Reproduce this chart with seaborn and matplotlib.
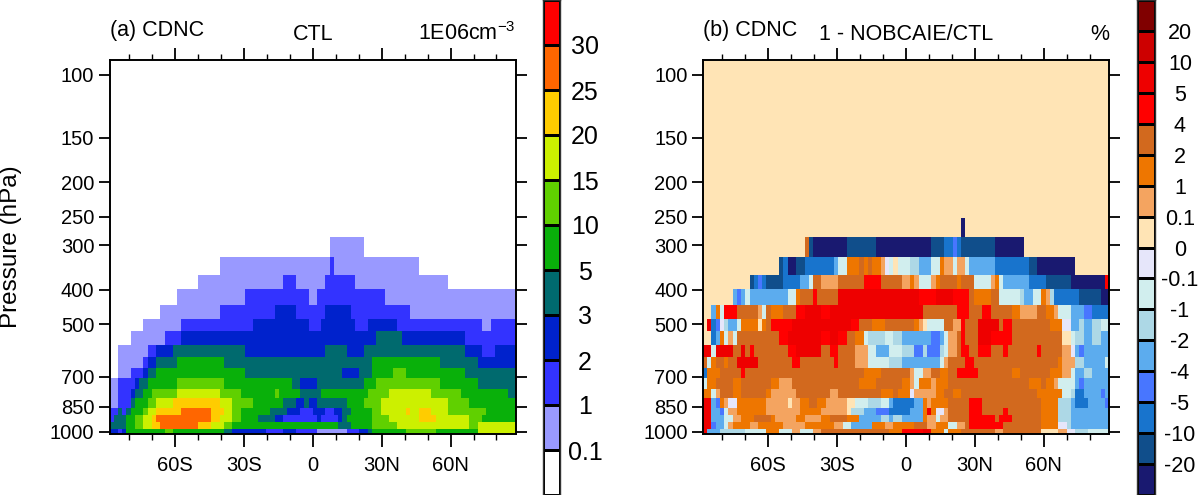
import numpy as np
import pandas as pd
import matplotlib
matplotlib.use("Agg")
import matplotlib.pyplot as plt
import seaborn as sns
from matplotlib.colors import ListedColormap, BoundaryNorm

sns.set_theme(style="ticks")
plt.rcParams["font.family"] = ["Liberation Sans", "DejaVu Sans"]
plt.rcParams["mathtext.default"] = "regular"
plt.rcParams["text.color"] = "black"
plt.rcParams["axes.labelcolor"] = "black"
plt.rcParams["xtick.color"] = "black"
plt.rcParams["ytick.color"] = "black"

# pressure edges of the model levels (hPa), top to bottom
level_edges = [253, 286, 323, 363, 398, 441, 482, 521, 571, 616, 662, 706,
               758, 803, 857, 896, 938, 981, 1013]
p_top = 91
p_bot = 1013
lat_max = 88.5
n_lat = 96

press_ticks = [100, 150, 200, 250, 300, 400, 500, 700, 850, 1000]
lat_major = [-60, -30, 0, 30, 60]
lat_labels = ["60S", "30S", "0", "30N", "60N"]
lat_minor = [-80, -70, -50, -40, -20, -10, 10, 20, 40, 50, 70, 80]

ctl_levels = ["0.1", "1", "2", "3", "5", "10", "15", "20", "25", "30"]
ctl_colors = ["#ffffff", "#9999ff", "#3333ff", "#0022cc", "#006a6e", "#09b00a",
              "#60d000", "#ccf000", "#ffcc00", "#ff6600", "#ff0000"]

diff_levels = ["-20", "-10", "-5", "-4", "-2", "-1", "-0.1", "0", "0.1", "1",
               "2", "4", "5", "10", "20"]
diff_colors = ["#191970", "#104e8b", "#1874cd", "#4876ff", "#5cacee", "#add8e6",
               "#d1eeee", "#e6e6fa", "#ffe4b5", "#f4a460", "#ee7600", "#d2691e",
               "#ff0000", "#ee0000", "#cd0000", "#800000"]

# binned CDNC, one string per level, "<bin>x<number of latitudes>", south to north
ctl_rows = [
    "0x96",
    "0x52 1x8 0x36",
    "0x26 1x26 2x1 1x20 0x23",
    "0x21 1x20 2x3 1x7 2x7 1x22 0x16",
    "0x16 1x16 2x15 1x2 2x16 1x31",
    "0x12 1x14 2x13 3x5 2x7 3x6 2x14 1x25",
    "0x8 1x9 2x17 3x13 2x3 3x8 2x3 3x7 2x20 1x2 2x6",
    "0x5 1x8 2x4 3x46 4x6 3x15 2x12",
    "0x2 1x7 2x2 3x4 4x17 3x19 4x5 3x4 4x24 3x4 2x3 3x5",
    "0x2 1x6 2x1 3x2 4x5 5x11 4x35 5x16 4x9 3x9",
    "0x2 1x3 2x3 3x1 4x2 5x21 4x23 3x4 4x3 5x5 6x3 5x14 4x12",
    "1x2 2x4 3x1 4x2 5x7 6x11 5x16 4x2 3x4 4x11 5x3 6x15 5x9 4x9",
    "1x2 2x3 3x1 4x2 5x2 6x6 7x10 6x5 5x8 6x1 5x5 4x5 5x11 6x5 7x10 6x7 5x11 4x2",
    "1x2 2x3 4x1 5x3 6x2 7x4 8x11 7x3 6x5 5x7 4x3 3x2 4x1 3x2 4x7 5x4 6x4 7x16 6x5 5x11",
    "2x2 4x1 2x1 4x1 5x3 6x1 7x2 8x6 9x7 8x3 7x2 6x2 5x7 4x4 3x3 2x3 3x3 2x2 3x2 4x2 5x5 6x2 7x6 8x1 7x2 8x3 7x4 6x9 5x7",
    "2x1 4x3 5x2 6x2 7x2 8x1 9x13 8x2 7x3 6x2 5x4 4x4 3x2 2x8 3x1 2x4 3x1 4x1 5x6 6x4 7x7 8x4 7x8 6x3 5x8",
    "4x4 5x2 6x2 7x2 8x2 9x9 8x3 7x3 6x2 5x25 4x3 5x5 6x6 7x17 6x2 7x9",
    "3x2 2x1 3x1 5x9 6x2 5x12 4x2 3x2 3x6 2x4 3x3 2x5 1x7 2x3 3x2 4x1 5x8 6x7 5x10 7x9",
]

# binned relative change, same layout (hex digit = bin)
diff_rows = [
    "8x61 0x1 8x34",
    "8x24 bx1 1x1 0x8 1x7 0x13 1x3 2x2 3x1 2x1 1x8 0x7 8x20",
    "8x18 1x1 2x1 0x2 1x2 2x7 4x1 6x2 ax3 bx1 ax1 bx1 ax2 9x1 7x1 6x1 8x1 6x3 5x2 4x3 6x2 ax1 9x2 6x1 9x2 6x1 4x6 2x4 2x4 1x2 0x9 8x8",
    "8x11 1x1 2x1 3x1 2x1 1x4 2x4 4x2 6x1 bx2 9x4 bx6 cx4 bx5 9x2 ax1 9x1 6x3 9x1 ax1 bx4 ax1 bx3 6x4 9x1 ax1 6x1 4x6 2x4 1x6 0x8 cx1",
    "8x7 4x1 3x1 4x1 6x1 4x9 6x2 ax1 bx3 cx1 bx5 dx19 cx4 dx4 cx4 bx1 ax4 bx2 6x5 5x1 4x2 6x2 ax1 9x1 5x1 2x6 1x5 0x2",
    "8x2 4x1 ax1 6x1 cx3 bx5 9x1 6x1 bx1 ax3 bx3 cx2 dx4 cx2 dx22 bx8 cx3 bx3 cx2 bx5 ax2 9x4 bx2 ax2 9x1 6x3 4x3 3x2 2x4",
    "8x1 dx1 2x1 3x1 7x1 5x1 4x2 6x1 ax4 8x1 ax1 bx1 cx5 dx14 cx2 bx3 ax3 bx7 ax1 9x1 8x1 6x4 bx2 9x2 cx1 bx3 dx5 bx1 cx2 bx9 ax3 7x2 4x2 5x1 4x2 5x2 6x2",
    "8x2 2x1 4x1 ax1 6x1 9x1 6x1 bx10 cx2 dx8 cx2 dx2 cx2 bx2 ax2 6x1 5x4 6x2 5x2 4x7 3x2 4x1 6x1 9x2 bx1 cx1 bx3 dx3 cx5 bx12 8x2 6x1 5x2 4x2 5x2 4x2",
    "dx2 6x1 dx4 bx2 dx1 bx1 cx1 bx8 cx2 dx6 bx2 cx2 bx4 9x3 6x2 4x3 6x3 5x3 3x2 5x1 3x3 5x1 6x1 9x2 bx1 cx2 bx2 cx3 bx3 cx1 bx7 cx1 bx5 9x2 7x1 4x1 3x1 4x6",
    "bx1 6x1 ax1 bx2 ax1 bx2 dx5 bx8 cx2 bx8 cx1 bx4 9x3 6x5 5x3 4x9 6x1 9x1 bx4 cx2 bx20 ax1 9x3 5x2 4x5 6x1",
    "2x1 ax3 bx5 cx1 bx28 ax4 bx7 9x1 6x2 9x2 bx2 ax2 bx2 cx5 bx8 ax2 bx7 ax3 9x2 6x1 4x2 5x2 4x4",
    "6x1 ax2 bx4 ax2 bx7 ax2 9x3 bx16 ax4 bx6 ax2 9x1 6x1 ax3 9x1 ax3 bx19 ax3 bx1 ax2 9x1 6x4 4x1 3x1 4x6",
    "ax2 6x1 9x1 bx3 ax2 bx6 ax1 9x6 bx8 9x2 bx10 ax3 bx1 ax3 7x1 9x5 ax2 bx2 ax2 bx18 ax6 6x2 5x1 2x2 4x4 3x1 4x1",
    "dx2 4x1 3x1 ax1 9x1 7x2 ax7 9x5 8x1 9x2 ax2 bx2 ax2 9x5 8x2 6x3 5x3 6x2 4x1 2x5 4x2 ax1 9x1 ax4 bx5 cx3 bx14 ax4 5x3 4x1 2x3 4x4 3x1",
    "dx2 4x2 3x1 6x1 9x2 ax7 9x8 ax5 9x6 8x1 5x3 4x3 3x3 2x5 4x3 ax1 dx1 ax1 7x2 9x1 bx5 cx3 bx5 cx1 bx8 ax4 5x3 4x9",
    "dx2 4x3 6x2 9x2 ax3 bx4 ax1 9x5 ax2 9x4 ax2 bx4 ax3 4x5 5x2 4x1 5x2 4x5 ax1 9x2 6x1 9x2 bx5 cx6 bx1 cx3 bx7 ax4 5x3 4x9",
    "dx2 3x1 4x2 6x1 9x1 ax4 9x2 ax6 9x5 ax7 9x2 6x2 4x5 ax3 9x2 ax5 bx3 9x2 ax3 6x2 9x2 bx1 cx8 bx9 ax4 7x2 5x1 4x9",
    "dx1 4x3 5x6 6x5 ax3 6x3 9x2 6x3 9x2 bx16 ax3 cx5 dx2 ax3 6x1 ax3 bx8 9x2 bx9 8x4 9x2 7x2 5x3 6x5",
]


def expand_rows(rows):
    grid = []
    for row in rows:
        cells = []
        for tok in row.split():
            cells += [int(tok[0], 16)] * int(tok[2:])
        grid.append(cells)
    return np.array(grid)


def on_pressure_axis(grid, background):
    # the heatmap cells are uniform, so repeat the levels on a fine log-p grid
    n_fine = 373
    log_edges = np.linspace(np.log10(p_top), np.log10(p_bot), n_fine + 1)
    p_mid = 10 ** (0.5 * (log_edges[:-1] + log_edges[1:]))
    idx = np.searchsorted(level_edges, p_mid) - 1
    fine = np.full((n_fine, grid.shape[1]), background)
    ok = (idx >= 0) & (idx < grid.shape[0])
    fine[ok] = grid[idx[ok]]
    return pd.DataFrame(fine, index=p_mid)


def p_to_row(p):
    return 373 * (np.log10(p) - np.log10(p_top)) / (np.log10(p_bot) - np.log10(p_top))


def lat_to_col(lat):
    return n_lat * (np.asarray(lat) + lat_max) / (2 * lat_max)


def draw_panel(ax, rows, colors, background):
    n = len(colors)
    cmap = ListedColormap(colors)
    norm = BoundaryNorm(np.arange(-0.5, n + 0.5), n)
    data = on_pressure_axis(expand_rows(rows), background)
    sns.heatmap(data, ax=ax, cmap=cmap, norm=norm, cbar=False,
                xticklabels=False, yticklabels=False, rasterized=True)
    for s in ax.spines.values():
        s.set_visible(True)
        s.set_linewidth(1.4)
        s.set_color("black")
    ax.set_xticks(lat_to_col(lat_major))
    ax.set_xticklabels(lat_labels, rotation=0)
    ax.set_xticks(lat_to_col(lat_minor), minor=True)
    ax.set_yticks([p_to_row(p) for p in press_ticks])
    ax.set_yticklabels([str(p) for p in press_ticks], rotation=0)
    ax.tick_params(axis="x", which="major", direction="out", top=True, bottom=True,
                   length=9, width=1.3, labelsize=14.5, pad=7)
    ax.tick_params(axis="x", which="minor", direction="out", top=True, bottom=True,
                   length=4.5, width=1.0)
    ax.tick_params(axis="y", which="major", direction="out", left=True, right=True,
                   length=8, width=1.3, labelsize=14.5, pad=3)
    ax.set_xlabel("")
    ax.set_ylabel("")


def draw_bar(cax, colors, labels, size, pad):
    n = len(colors)
    cmap = ListedColormap(colors)
    norm = BoundaryNorm(np.arange(-0.5, n + 0.5), n)
    values = np.arange(n)[::-1].reshape(-1, 1)
    sns.heatmap(values, ax=cax, cmap=cmap, norm=norm, cbar=False, linewidths=0.8,
                linecolor="black", xticklabels=False, yticklabels=False)
    for s in cax.spines.values():
        s.set_visible(True)
        s.set_linewidth(1.0)
        s.set_color("#333333")
    cax.yaxis.tick_right()
    cax.set_yticks(np.arange(1, n))
    cax.set_yticklabels(labels[::-1], rotation=0, ha="center")
    cax.tick_params(axis="y", length=0, labelsize=size, pad=pad)


W, H = 1200, 495
fig = plt.figure(figsize=(W / 100, H / 100), dpi=100)


def px_axes(x0, y0, x1, y1):
    return fig.add_axes([x0 / W, 1 - y1 / H, (x1 - x0) / W, (y1 - y0) / H])


ax_a = px_axes(109.5, 60, 516, 434)
ax_b = px_axes(703, 60, 1109, 434)
cax_a = px_axes(543, 0, 560, 495)
cax_b = px_axes(1137, 0, 1155, 495)

draw_panel(ax_a, ctl_rows, ctl_colors, 0)
draw_panel(ax_b, diff_rows, diff_colors, 8)
draw_bar(cax_a, ctl_colors, ctl_levels, 18, 18)
draw_bar(cax_b, diff_colors, diff_levels, 15.5, 18)

ax_a.set_ylabel("Pressure (hPa)", fontsize=17.5, va="center")
ax_a.yaxis.set_label_coords(-0.243, 0.5)

ax_a.text(0, 1.05, "(a) CDNC", transform=ax_a.transAxes, ha="left", va="bottom", fontsize=15.5)
ax_a.text(0.5, 1.04, "CTL", transform=ax_a.transAxes, ha="center", va="bottom", fontsize=15.5)
ax_a.text(1, 1.04, "1E06cm$^{-3}$", transform=ax_a.transAxes, ha="right", va="bottom", fontsize=15.5)
ax_b.text(0, 1.05, "(b) CDNC", transform=ax_b.transAxes, ha="left", va="bottom", fontsize=15.5)
ax_b.text(0.5, 1.04, "1 - NOBCAIE/CTL", transform=ax_b.transAxes, ha="center", va="bottom", fontsize=15.5)
ax_b.text(1, 1.04, "%", transform=ax_b.transAxes, ha="right", va="bottom", fontsize=15.5)

fig.savefig("out.png", dpi=100)
